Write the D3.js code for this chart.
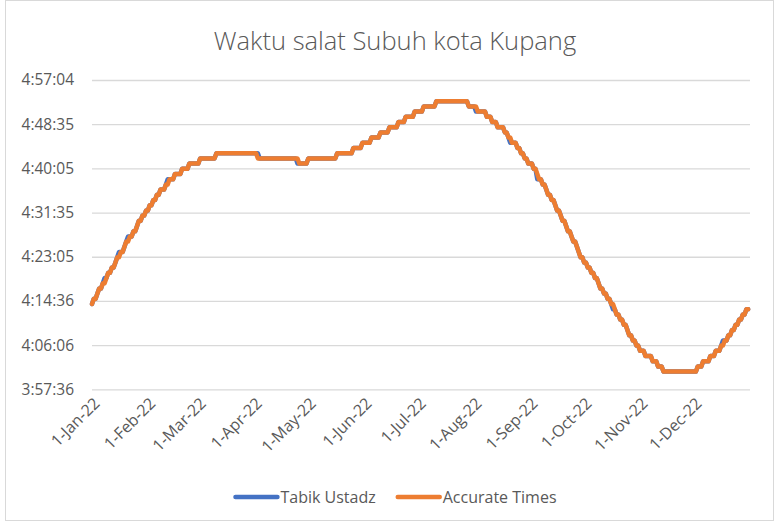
<!DOCTYPE html>
<html>
<head>
<meta charset="utf-8">
<script src="https://cdn.jsdelivr.net/npm/d3@7"></script>
<style>
  body { margin: 0; background: #fff; }
  svg text { font-family: "Open Sans", "Noto Sans", sans-serif; fill: #595959; }
</style>
</head>
<body>
<div id="chart"></div>
<script>
const chartTitle = "Waktu salat Subuh kota Kupang";
const seriesNames = ["Tabik Ustadz", "Accurate Times"];
const seriesColors = ["#4472C4", "#ED7D31"];
const firstDay = "2022-01-01";

// minutes after 4:00, one value per day (Jan 1 .. Dec 31, 2022)
const tabikMinutes = [
  14,15,15,16,17,17,18,19,19,20,20,21,21,22,23,24,24,24,25,26,27,27,27,28,28,29,30,30,31,31,32,
  32,33,33,34,34,35,35,36,36,36,37,38,38,38,38,39,39,39,39,40,40,40,40,41,41,41,41,41,
  41,42,42,42,42,42,42,42,42,42,43,43,43,43,43,43,43,43,43,43,43,43,43,43,43,43,43,43,43,43,43,
  43,43,43,42,42,42,42,42,42,42,42,42,42,42,42,42,42,42,42,42,42,42,42,42,41,41,41,41,41,41,
  42,42,42,42,42,42,42,42,42,42,42,42,42,42,42,42,43,43,43,43,43,43,43,43,43,44,44,44,44,44,45,
  45,45,45,45,46,46,46,46,46,47,47,47,47,47,48,48,48,48,48,49,49,49,49,50,50,50,50,50,51,51,
  51,51,51,52,52,52,52,52,52,52,53,53,53,53,53,53,53,53,53,53,53,53,53,53,53,53,53,53,52,52,52,
  52,51,51,51,51,51,51,50,50,50,49,49,49,48,48,48,48,47,47,46,45,45,45,45,44,44,43,43,42,42,41,
  41,41,40,40,38,38,38,37,37,36,35,35,34,34,33,32,32,31,30,30,29,28,28,27,26,26,25,24,23,23,
  22,22,21,21,20,20,19,19,18,17,17,16,16,15,15,14,13,13,12,12,11,11,10,10,9,8,8,7,7,6,6,
  5,5,5,4,4,4,4,3,3,3,2,2,2,1,1,1,1,1,1,1,1,1,1,1,1,1,1,1,1,1,
  1,1,2,2,2,3,3,3,3,4,4,4,5,5,5,6,7,7,7,8,8,9,9,10,10,11,11,12,12,13,13
];
const accurateMinutes = [
  14,15,15,16,17,17,18,18,19,20,20,21,21,22,23,23,24,24,25,26,26,27,27,28,28,29,30,30,31,31,32,
  32,33,33,34,34,35,35,36,36,36,37,37,38,38,38,39,39,39,39,40,40,40,40,41,41,41,41,41,
  41,42,42,42,42,42,42,42,42,42,43,43,43,43,43,43,43,43,43,43,43,43,43,43,43,43,43,43,43,43,43,
  43,43,42,42,42,42,42,42,42,42,42,42,42,42,42,42,42,42,42,42,42,42,42,42,42,41,41,41,41,41,
  42,42,42,42,42,42,42,42,42,42,42,42,42,42,42,42,43,43,43,43,43,43,43,43,43,44,44,44,44,44,45,
  45,45,45,45,46,46,46,46,46,47,47,47,47,47,48,48,48,48,48,49,49,49,49,50,50,50,50,50,51,51,
  51,51,51,52,52,52,52,52,52,52,53,53,53,53,53,53,53,53,53,53,53,53,53,53,53,53,53,53,52,52,52,
  52,52,51,51,51,51,51,50,50,50,49,49,49,48,48,48,48,47,47,46,46,45,45,45,44,44,43,43,42,42,41,
  41,41,40,40,39,38,38,37,37,36,35,35,34,34,33,32,32,31,30,30,29,28,28,27,26,26,25,24,23,23,
  22,22,21,21,20,20,19,19,18,17,17,16,16,15,15,14,14,13,12,12,11,11,10,10,9,8,8,7,7,6,6,
  5,5,5,4,4,4,4,3,3,3,2,2,2,1,1,1,1,1,1,1,1,1,1,1,1,1,1,1,1,1,
  1,1,2,2,2,3,3,3,3,4,4,4,5,5,5,6,6,7,7,8,8,9,9,10,10,11,11,12,12,13,13
];

// y axis ticks in seconds after midnight, with their labels
const yTickSeconds = [14256, 14765.76, 15275.52, 15785.28, 16295.04, 16804.8, 17314.56, 17824.32];
const yTickLabels = ["3:57:36", "4:06:06", "4:14:36", "4:23:05", "4:31:35", "4:40:05", "4:48:35", "4:57:04"];
const xTickLabels = ["1-Jan-22", "1-Feb-22", "1-Mar-22", "1-Apr-22", "1-May-22", "1-Jun-22",
  "1-Jul-22", "1-Aug-22", "1-Sep-22", "1-Oct-22", "1-Nov-22", "1-Dec-22"];

const W = 779, H = 525;
const margins = {left: 92, right: 29, top: 80, bottom: 135.7};
const width = W - margins.left - margins.right;
const height = H - margins.top - margins.bottom;

const svg = d3.select("#chart").append("svg")
  .attr("width", W)
  .attr("height", H);

// chart frame
svg.append("rect")
  .attr("x", 5.5).attr("y", 0.5)
  .attr("width", 768).attr("height", 520)
  .attr("fill", "none")
  .attr("stroke", "#d9d9d9");

svg.append("text")
  .attr("x", 395).attr("y", 50)
  .attr("text-anchor", "middle")
  .style("font-size", "25.5px")
  .style("font-weight", 300)
  .text(chartTitle);

const g = svg.append("g")
  .attr("transform", "translate(" + margins.left + "," + margins.top + ")");

const start = d3.utcParse("%Y-%m-%d")(firstDay);
const x = d3.scaleUtc()
  .domain([start, d3.utcYear.offset(start, 1)])
  .range([0, width]);
const y = d3.scaleLinear()
  .domain([yTickSeconds[0], yTickSeconds[yTickSeconds.length - 1]])
  .range([height, 0]);

const yAxis = g.append("g")
  .call(d3.axisLeft(y)
    .tickValues(yTickSeconds)
    .tickFormat(function(d, i) { return yTickLabels[i]; })
    .tickSize(-width)
    .tickPadding(18));
yAxis.select(".domain").remove();
yAxis.selectAll(".tick line").attr("stroke", "#d9d9d9").attr("stroke-width", 1.3);
yAxis.selectAll(".tick text").style("font-size", "15.5px");

const monthStarts = d3.utcMonths(start, d3.utcYear.offset(start, 1));
const xAxis = g.append("g")
  .attr("transform", "translate(0," + height + ")")
  .call(d3.axisBottom(x)
    .tickValues(monthStarts)
    .tickFormat(function(d, i) { return xTickLabels[i]; })
    .tickSize(0));
xAxis.select(".domain").remove();
xAxis.selectAll(".tick text")
  .style("font-size", "16px")
  .attr("text-anchor", "end")
  .attr("dy", 0)
  .attr("transform", "translate(6,13) rotate(-45)");

function toSeries(minutes) {
  return minutes.map(function(m, i) {
    return {date: d3.utcDay.offset(start, i), value: 4 * 3600 + m * 60};
  });
}
const series = [toSeries(tabikMinutes), toSeries(accurateMinutes)];

const line = d3.line()
  .x(function(d) { return x(d.date); })
  .y(function(d) { return y(d.value); });

g.selectAll(".series")
  .data(series)
  .enter().append("path")
  .attr("class", "series")
  .attr("fill", "none")
  .attr("stroke", function(d, i) { return seriesColors[i]; })
  .attr("stroke-width", 4.5)
  .attr("stroke-linejoin", "round")
  .attr("stroke-linecap", "round")
  .attr("d", line);

// legend
const legend = svg.append("g").attr("transform", "translate(0,497)");
const item = legend.selectAll(".item")
  .data(seriesNames)
  .enter().append("g")
  .attr("class", "item");
item.append("line")
  .attr("x1", 0).attr("x2", 42)
  .attr("stroke", function(d, i) { return seriesColors[i]; })
  .attr("stroke-width", 4.5)
  .attr("stroke-linecap", "round");
item.append("text")
  .attr("x", 45)
  .attr("dy", "0.35em")
  .style("font-size", "16px")
  .text(function(d) { return d; });

let widths = [];
item.each(function() { widths.push(this.getBBox().width); });
const gap = 22;
const total = d3.sum(widths) + gap * (widths.length - 1);
let cursor = 396 - total / 2;
item.attr("transform", function(d, i) {
  const t = "translate(" + cursor + ",0)";
  cursor += widths[i] + gap;
  return t;
});
</script>
</body>
</html>
